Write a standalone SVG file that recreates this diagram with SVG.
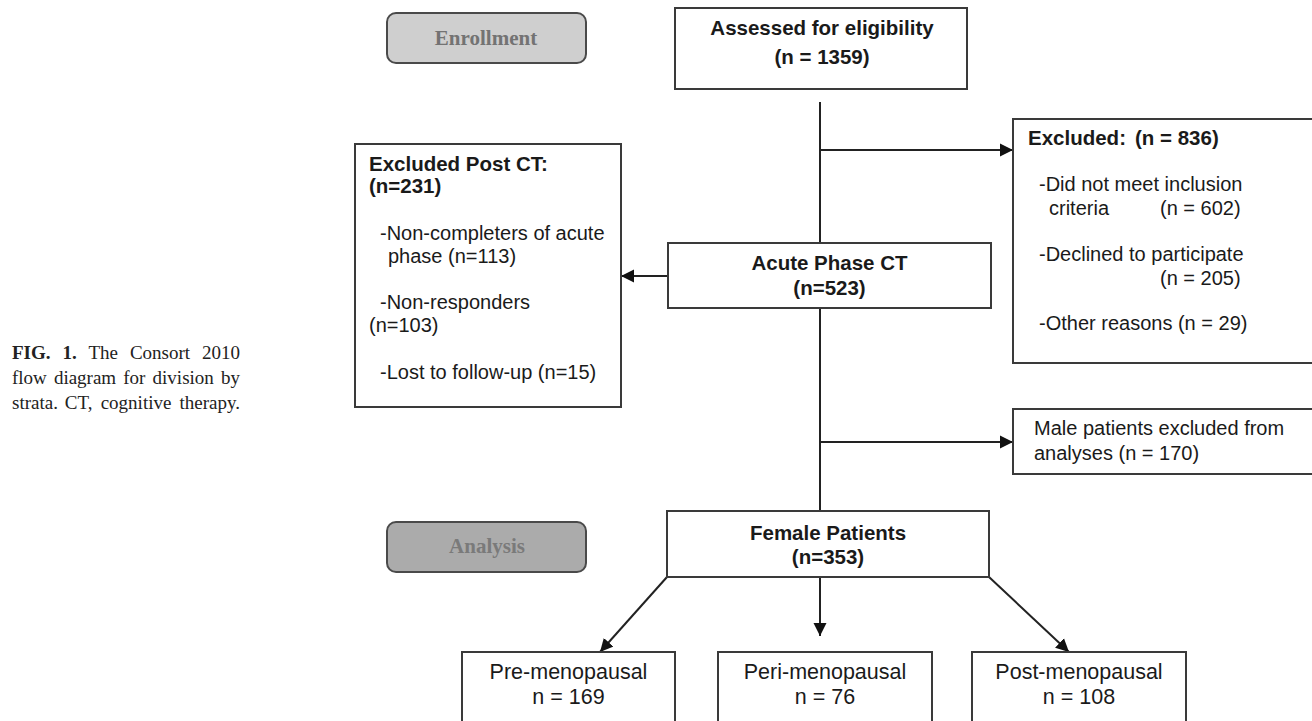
<svg xmlns="http://www.w3.org/2000/svg" width="1312" height="721" viewBox="0 0 1312 721">
<style>
.box{fill:#fff;stroke:#3a3a3a;stroke-width:2}
.phase{stroke:#4a4a4a;stroke-width:2}
.b{font-family:"Liberation Sans",Arial,sans-serif;font-weight:bold;font-size:20.5px;fill:#1a1a1a}
.r{font-family:"Liberation Sans",Arial,sans-serif;font-size:20px;fill:#1a1a1a}
.rb{font-family:"Liberation Sans",Arial,sans-serif;font-size:21.5px;fill:#1a1a1a}
.ph{font-family:"Liberation Serif","Times New Roman",serif;font-weight:bold;font-size:21px}
.cap{font-family:"Liberation Serif","Times New Roman",serif;font-size:19px;fill:#222}
.c{text-anchor:middle}
.ln{stroke:#222;stroke-width:2;fill:none}
</style>
<defs>
<marker id="ah" markerUnits="userSpaceOnUse" markerWidth="14" markerHeight="14" viewBox="0 0 14 14" refX="13" refY="7" orient="auto">
<path d="M0,0.5 L13,7 L0,13.5 Z" fill="#111"/>
</marker>
</defs>
<rect width="1312" height="721" fill="#fff"/>

<g id="caption">
<text class="cap" y="359"><tspan x="12" font-weight="bold">FIG.</tspan><tspan x="62.4" font-weight="bold">1.</tspan><tspan x="88.5">The</tspan><tspan x="129.9">Consort</tspan><tspan x="240" text-anchor="end">2010</tspan></text>
<text class="cap" y="384"><tspan x="12">flow</tspan><tspan x="53.9">diagram</tspan><tspan x="123.3">for</tspan><tspan x="152.6">division</tspan><tspan x="240" text-anchor="end">by</tspan></text>
<text class="cap" y="409"><tspan x="12">strata.</tspan><tspan x="64.8">CT,</tspan><tspan x="100.7">cognitive</tspan><tspan x="240" text-anchor="end">therapy.</tspan></text>
</g>

<g id="connectors">
<line class="ln" x1="820" y1="102" x2="820" y2="243"/>
<line class="ln" x1="820" y1="308" x2="820" y2="511"/>
<line class="ln" x1="820" y1="150" x2="1013" y2="150" marker-end="url(#ah)"/>
<line class="ln" x1="820" y1="442" x2="1013" y2="442" marker-end="url(#ah)"/>
<line class="ln" x1="668" y1="276" x2="621" y2="276" marker-end="url(#ah)"/>
<line class="ln" x1="667" y1="577" x2="600" y2="652" marker-end="url(#ah)"/>
<line class="ln" x1="820" y1="577" x2="820" y2="636" marker-end="url(#ah)"/>
<line class="ln" x1="989" y1="577" x2="1069" y2="652" marker-end="url(#ah)"/>
</g>

<g id="enrollment">
<rect class="phase" x="387" y="13" width="199" height="50" rx="9" fill="#cfcfcf"/>
<text class="ph c" x="486" y="45" fill="#737373">Enrollment</text>
</g>

<g id="analysis">
<rect class="phase" x="387" y="522" width="199" height="50" rx="9" fill="#ababab"/>
<text class="ph c" x="487" y="553" fill="#7a7a7a">Analysis</text>
</g>

<g id="assessed">
<rect class="box" x="675" y="8" width="292" height="81"/>
<text class="b c" x="822" y="35">Assessed for eligibility</text>
<text class="b c" x="822" y="64">(n = 1359)</text>
</g>

<g id="excluded">
<rect class="box" x="1013" y="119" width="310" height="244"/>
<text class="b" y="145"><tspan x="1028">Excluded:</tspan><tspan x="1135">(n = 836)</tspan></text>
<text class="r" x="1039" y="191">-Did not meet inclusion</text>
<text class="r" y="215"><tspan x="1049">criteria</tspan><tspan x="1160">(n = 602)</tspan></text>
<text class="r" x="1039" y="261">-Declined to participate</text>
<text class="r" x="1160" y="285">(n = 205)</text>
<text class="r" x="1039" y="330">-Other reasons (n = 29)</text>
</g>

<g id="acute">
<rect class="box" x="668" y="243" width="323" height="65"/>
<text class="b c" x="829.5" y="270">Acute Phase CT</text>
<text class="b c" x="829.5" y="295">(n=523)</text>
</g>

<g id="excluded-post">
<rect class="box" x="355" y="144" width="266" height="263"/>
<text class="b" x="369" y="171">Excluded Post CT:</text>
<text class="b" x="369" y="193">(n=231)</text>
<text class="r" x="380" y="240">-Non-completers of acute</text>
<text class="r" x="388" y="263">phase (n=113)</text>
<text class="r" x="380" y="309">-Non-responders</text>
<text class="r" x="369" y="332">(n=103)</text>
<text class="r" x="380" y="379">-Lost to follow-up (n=15)</text>
</g>

<g id="male">
<rect class="box" x="1013" y="409" width="310" height="65"/>
<text class="r" x="1034" y="435">Male patients excluded from</text>
<text class="r" x="1034" y="460">analyses (n = 170)</text>
</g>

<g id="female">
<rect class="box" x="667" y="511" width="322" height="66"/>
<text class="b c" x="828" y="540">Female Patients</text>
<text class="b c" x="828" y="564">(n=353)</text>
</g>

<g id="pre">
<rect class="box" x="462" y="652" width="213" height="80"/>
<text class="rb c" x="568.5" y="679">Pre-menopausal</text>
<text class="rb c" x="568.5" y="704">n = 169</text>
</g>

<g id="peri">
<rect class="box" x="718" y="652" width="214" height="80"/>
<text class="rb c" x="825" y="679">Peri-menopausal</text>
<text class="rb c" x="825" y="704">n = 76</text>
</g>

<g id="post">
<rect class="box" x="972" y="652" width="214" height="80"/>
<text class="rb c" x="1079" y="679">Post-menopausal</text>
<text class="rb c" x="1079" y="704">n = 108</text>
</g>
</svg>
